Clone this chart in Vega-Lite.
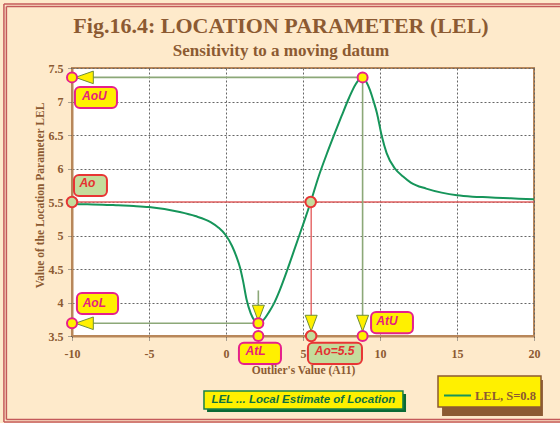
{
  "$schema": "https://vega.github.io/schema/vega-lite/v6.json",
  "width": 462,
  "height": 268,
  "autosize": "none",
  "padding": {"left": 72, "top": 68, "right": 26, "bottom": 87},
  "background": "#FEEACB",
  "title": {
    "text": "Fig.16.4: LOCATION PARAMETER (LEL)",
    "subtitle": "Sensitivity to a moving datum",
    "anchor": "middle",
    "frame": "group",
    "dx": -22,
    "offset": -57,
    "font": "Liberation Serif",
    "fontSize": 22,
    "fontWeight": "bold",
    "color": "#8C5A32",
    "subtitleFont": "Liberation Serif",
    "subtitleFontSize": 17,
    "subtitleFontWeight": "bold",
    "subtitleColor": "#8C5A32",
    "subtitlePadding": 5
  },
  "config": {
    "view": {"fill": "#FFFFFF", "stroke": "#B8875A", "strokeWidth": 2},
    "axis": {
      "labelFont": "Liberation Serif",
      "labelFontWeight": "bold",
      "labelFontSize": 12,
      "labelColor": "#8C5A32",
      "titleFont": "Liberation Serif",
      "titleFontWeight": "bold",
      "titleFontSize": 11.5,
      "titleColor": "#8C5A32",
      "domainColor": "#B8875A",
      "domainWidth": 2,
      "tickColor": "#555555",
      "tickSize": 4,
      "tickDash": [2, 1],
      "gridColor": "#666666",
      "gridDash": [2, 2],
      "gridOpacity": 1,
      "gridWidth": 1
    }
  },
  "datasets": {
    "frame": [
      {"x": -14.42, "x2": 40, "y": 8.455, "y2": 8.455},
      {"x": -14.42, "x2": -14.42, "y": 8.455, "y2": 2.216},
      {"x": -14.42, "x2": 40, "y": 2.216, "y2": 2.216},
      {"x": -14.26, "x2": 40, "y": 8.418, "y2": 8.418},
      {"x": -14.26, "x2": -14.26, "y": 8.418, "y2": 2.254},
      {"x": -14.26, "x2": 40, "y": 2.254, "y2": 2.254}
    ],
    "curve": [
      {"x": -10, "y": 5.47, "series": "LEL, S=0.8"},
      {"x": -9, "y": 5.465, "series": "LEL, S=0.8"},
      {"x": -8, "y": 5.46, "series": "LEL, S=0.8"},
      {"x": -7, "y": 5.45, "series": "LEL, S=0.8"},
      {"x": -6, "y": 5.44, "series": "LEL, S=0.8"},
      {"x": -5, "y": 5.425, "series": "LEL, S=0.8"},
      {"x": -4, "y": 5.395, "series": "LEL, S=0.8"},
      {"x": -3, "y": 5.35, "series": "LEL, S=0.8"},
      {"x": -2, "y": 5.29, "series": "LEL, S=0.8"},
      {"x": -1, "y": 5.2, "series": "LEL, S=0.8"},
      {"x": -0.5, "y": 5.12, "series": "LEL, S=0.8"},
      {"x": 0, "y": 5.0, "series": "LEL, S=0.8"},
      {"x": 0.4, "y": 4.84, "series": "LEL, S=0.8"},
      {"x": 0.7, "y": 4.67, "series": "LEL, S=0.8"},
      {"x": 0.9, "y": 4.53, "series": "LEL, S=0.8"},
      {"x": 1.1, "y": 4.33, "series": "LEL, S=0.8"},
      {"x": 1.34, "y": 4.04, "series": "LEL, S=0.8"},
      {"x": 1.6, "y": 3.84, "series": "LEL, S=0.8"},
      {"x": 1.85, "y": 3.73, "series": "LEL, S=0.8"},
      {"x": 2.1, "y": 3.69, "series": "LEL, S=0.8"},
      {"x": 2.4, "y": 3.73, "series": "LEL, S=0.8"},
      {"x": 2.8, "y": 3.86, "series": "LEL, S=0.8"},
      {"x": 3.1, "y": 3.98, "series": "LEL, S=0.8"},
      {"x": 3.5, "y": 4.19, "series": "LEL, S=0.8"},
      {"x": 4, "y": 4.5, "series": "LEL, S=0.8"},
      {"x": 4.5, "y": 4.83, "series": "LEL, S=0.8"},
      {"x": 5, "y": 5.16, "series": "LEL, S=0.8"},
      {"x": 5.5, "y": 5.5, "series": "LEL, S=0.8"},
      {"x": 6, "y": 5.87, "series": "LEL, S=0.8"},
      {"x": 6.5, "y": 6.19, "series": "LEL, S=0.8"},
      {"x": 7, "y": 6.49, "series": "LEL, S=0.8"},
      {"x": 7.5, "y": 6.78, "series": "LEL, S=0.8"},
      {"x": 8, "y": 7.06, "series": "LEL, S=0.8"},
      {"x": 8.4, "y": 7.25, "series": "LEL, S=0.8"},
      {"x": 8.7, "y": 7.34, "series": "LEL, S=0.8"},
      {"x": 8.9, "y": 7.36, "series": "LEL, S=0.8"},
      {"x": 9.1, "y": 7.3, "series": "LEL, S=0.8"},
      {"x": 9.35, "y": 7.17, "series": "LEL, S=0.8"},
      {"x": 9.6, "y": 6.99, "series": "LEL, S=0.8"},
      {"x": 9.8, "y": 6.83, "series": "LEL, S=0.8"},
      {"x": 10.1, "y": 6.5, "series": "LEL, S=0.8"},
      {"x": 10.43, "y": 6.23, "series": "LEL, S=0.8"},
      {"x": 10.97, "y": 6.0, "series": "LEL, S=0.8"},
      {"x": 11.5, "y": 5.88, "series": "LEL, S=0.8"},
      {"x": 12, "y": 5.79, "series": "LEL, S=0.8"},
      {"x": 13, "y": 5.7, "series": "LEL, S=0.8"},
      {"x": 14, "y": 5.64, "series": "LEL, S=0.8"},
      {"x": 15, "y": 5.6, "series": "LEL, S=0.8"},
      {"x": 16, "y": 5.58, "series": "LEL, S=0.8"},
      {"x": 17, "y": 5.57, "series": "LEL, S=0.8"},
      {"x": 18, "y": 5.56, "series": "LEL, S=0.8"},
      {"x": 19, "y": 5.55, "series": "LEL, S=0.8"},
      {"x": 20, "y": 5.54, "series": "LEL, S=0.8"}
    ],
    "hline": [{"x": -10, "x2": 20, "y": 5.5, "y2": 5.5}],
    "gsegs": [
      {"x": -10, "x2": 8.87, "y": 7.36, "y2": 7.36},
      {"x": 8.87, "x2": 8.87, "y": 7.36, "y2": 3.5},
      {"x": -10, "x2": 2.1, "y": 3.69, "y2": 3.69},
      {"x": 2.1, "x2": 2.1, "y": 4.18, "y2": 3.9}
    ],
    "rsegs": [{"x": 5.53, "x2": 5.53, "y": 5.5, "y2": 3.5}],
    "tleft": [{"x": -9.2, "y": 7.36}, {"x": -9.2, "y": 3.69}],
    "tdown": [{"x": 2.1, "y": 3.84}, {"x": 5.53, "y": 3.69}, {"x": 8.87, "y": 3.69}],
    "ycirc": [
      {"x": -10, "y": 7.36}, {"x": 8.87, "y": 7.36}, {"x": -10, "y": 3.69},
      {"x": 2.1, "y": 3.69}, {"x": 2.1, "y": 3.5}, {"x": 8.87, "y": 3.5}
    ],
    "gcirc": [{"x": -10, "y": 5.5}, {"x": 5.5, "y": 5.5}, {"x": 5.53, "y": 3.5}],
    "ybox": [
      {"x": -9.81, "x2": -7.08, "y": 7.216, "y2": 6.903},
      {"x": -9.68, "x2": -7.01, "y": 4.142, "y2": 3.828},
      {"x": 0.84, "x2": 3.57, "y": 3.4, "y2": 3.082},
      {"x": 9.42, "x2": 12.14, "y": 3.858, "y2": 3.54}
    ],
    "gbox": [
      {"x": -9.87, "x2": -7.73, "y": 5.903, "y2": 5.59},
      {"x": 5.32, "x2": 8.83, "y": 3.4, "y2": 3.082}
    ],
    "ylab": [
      {"x": -8.55, "y": 7.08, "label": "AoU"},
      {"x": -8.55, "y": 4.0, "label": "AoL"},
      {"x": 1.92, "y": 3.27, "label": "AtL"},
      {"x": 10.45, "y": 3.73, "label": "AtU"}
    ],
    "glab": [
      {"x": -9.0, "y": 5.78, "label": "Ao"},
      {"x": 7.05, "y": 3.27, "label": "Ao=5.5"}
    ],
    "noteShadow": [{"x": -1.23, "x2": 11.69, "y": 2.634, "y2": 2.366}],
    "noteBox": [{"x": -1.43, "x2": 11.49, "y": 2.679, "y2": 2.41}],
    "noteText": [{"x": 5.02, "y": 2.545, "label": "LEL ... Local Estimate of Location"}],
    "legShadow": [{"x": 14.03, "x2": 20.58, "y": 2.843, "y2": 2.306}]
  },
  "encoding": {
    "x": {
      "field": "x",
      "type": "quantitative",
      "scale": {"domain": [-10, 20], "nice": false, "zero": false},
      "axis": {
        "values": [-10, -5, 0, 5, 10, 15, 20],
        "title": "Outlier's Value (A11)",
        "labelExpr": "'' + datum.value",
        "labelFlush": false,
        "labelPadding": 8,
        "titleY": 34,
        "titleBaseline": "middle"
      }
    },
    "y": {
      "field": "y",
      "type": "quantitative",
      "scale": {"domain": [3.5, 7.5], "nice": false, "zero": false},
      "axis": {
        "values": [3.5, 4, 4.5, 5, 5.5, 6, 6.5, 7, 7.5],
        "title": "Value of the Location Parameter LEL",
        "labelExpr": "'' + datum.value",
        "labelFlush": false,
        "labelPadding": 5,
        "titleX": -32,
        "titleY": 127,
        "titleAlign": "center",
        "titleBaseline": "middle",
        "titleAngle": -90
      }
    }
  },
  "layer": [
    {
      "data": {"name": "frame"},
      "mark": {"type": "rule", "color": "#C45A5A", "strokeWidth": 1.5},
      "encoding": {"x2": {"field": "x2"}, "y2": {"field": "y2"}}
    },
    {
      "data": {"name": "hline"},
      "mark": {"type": "rule", "color": "#E06060", "strokeWidth": 1.5},
      "encoding": {"x2": {"field": "x2"}, "y2": {"field": "y2"}}
    },
    {
      "data": {"name": "gsegs"},
      "mark": {"type": "rule", "color": "#8CA878", "strokeWidth": 1.6},
      "encoding": {"x2": {"field": "x2"}, "y2": {"field": "y2"}}
    },
    {
      "data": {"name": "rsegs"},
      "mark": {"type": "rule", "color": "#E04848", "strokeWidth": 1.2},
      "encoding": {"x2": {"field": "x2"}, "y2": {"field": "y2"}}
    },
    {
      "data": {"name": "curve"},
      "mark": {"type": "line", "strokeWidth": 2, "interpolate": "monotone"},
      "encoding": {
        "color": {
          "field": "series",
          "type": "nominal",
          "scale": {"range": ["#16955A"]},
          "legend": {
            "title": null,
            "orient": "none",
            "legendX": 366,
            "legendY": 308,
            "fillColor": "#FFF000",
            "strokeColor": "#8C5A32",
            "padding": 5,
            "symbolType": "stroke",
            "symbolSize": 729,
            "symbolStrokeWidth": 2,
            "labelFont": "Liberation Serif",
            "labelFontWeight": "bold",
            "labelFontSize": 12.5,
            "labelColor": "#8C5A32",
            "labelOffset": 3,
            "encode": {"legend": {"update": {"strokeWidth": {"value": 1.5}}}}
          }
        }
      }
    },
    {
      "data": {"name": "tleft"},
      "mark": {"type": "point", "shape": "M -1 0 L 1 -0.7 L 1 0.7 Z", "size": 324, "filled": true, "fill": "#FFF000", "stroke": "#6E8E3A", "strokeWidth": 1, "opacity": 1}
    },
    {
      "data": {"name": "tdown"},
      "mark": {"type": "point", "shape": "M 0 1 L -0.75 -1 L 0.75 -1 Z", "size": 256, "filled": true, "fill": "#FFF000", "stroke": "#6E8E3A", "strokeWidth": 1, "opacity": 1}
    },
    {
      "data": {"name": "ycirc"},
      "mark": {"type": "point", "shape": "circle", "size": 100, "filled": true, "fill": "#FFF000", "stroke": "#E6208C", "strokeWidth": 2, "opacity": 1}
    },
    {
      "data": {"name": "gcirc"},
      "mark": {"type": "point", "shape": "circle", "size": 110, "filled": true, "fill": "#C4DC9C", "stroke": "#E83535", "strokeWidth": 2, "opacity": 1}
    },
    {
      "data": {"name": "ybox"},
      "mark": {"type": "rect", "fill": "#FFF000", "stroke": "#E6208C", "strokeWidth": 2, "cornerRadius": 5},
      "encoding": {"x2": {"field": "x2"}, "y2": {"field": "y2"}}
    },
    {
      "data": {"name": "gbox"},
      "mark": {"type": "rect", "fill": "#C4DC9C", "stroke": "#E83535", "strokeWidth": 2, "cornerRadius": 5},
      "encoding": {"x2": {"field": "x2"}, "y2": {"field": "y2"}}
    },
    {
      "data": {"name": "ylab"},
      "mark": {"type": "text", "font": "Liberation Sans", "fontSize": 12, "fontWeight": "bold", "fontStyle": "italic", "color": "#E6207E", "align": "center", "baseline": "middle"},
      "encoding": {"text": {"field": "label"}}
    },
    {
      "data": {"name": "glab"},
      "mark": {"type": "text", "font": "Liberation Sans", "fontSize": 12, "fontWeight": "bold", "fontStyle": "italic", "color": "#E53030", "align": "center", "baseline": "middle"},
      "encoding": {"text": {"field": "label"}}
    },
    {
      "data": {"name": "noteShadow"},
      "mark": {"type": "rect", "fill": "#0B6A35"},
      "encoding": {"x2": {"field": "x2"}, "y2": {"field": "y2"}}
    },
    {
      "data": {"name": "noteBox"},
      "mark": {"type": "rect", "fill": "#FFF000", "stroke": "#1A8048", "strokeWidth": 1.5},
      "encoding": {"x2": {"field": "x2"}, "y2": {"field": "y2"}}
    },
    {
      "data": {"name": "noteText"},
      "mark": {"type": "text", "font": "Liberation Sans", "fontSize": 11.5, "fontWeight": "bold", "fontStyle": "italic", "color": "#0E7040", "align": "center", "baseline": "middle"},
      "encoding": {"text": {"field": "label"}}
    },
    {
      "data": {"name": "legShadow"},
      "mark": {"type": "rect", "fill": "#8C5A32"},
      "encoding": {"x2": {"field": "x2"}, "y2": {"field": "y2"}}
    }
  ]
}
